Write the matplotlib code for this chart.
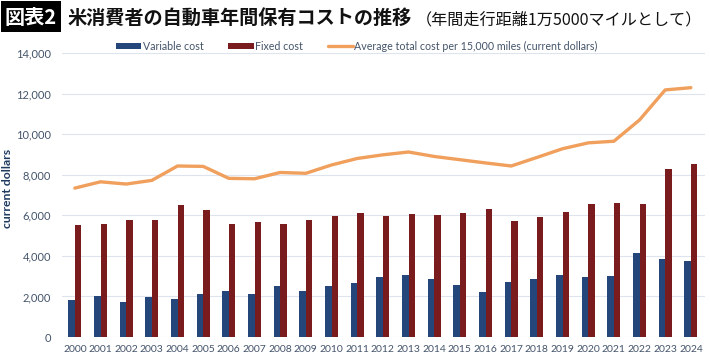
import matplotlib
matplotlib.use("Agg")
import matplotlib.pyplot as plt
from matplotlib.patches import Rectangle
import numpy as np

years = [str(y) for y in range(2000, 2025)]
variable_cost = [1810, 2000, 1730, 1960, 1860, 2100, 2250, 2140, 2530, 2290, 2500, 2650,
                 2940, 3040, 2840, 2580, 2200, 2710, 2880, 3070, 2960, 3020, 4120, 3860, 3750]
fixed_cost = [5500, 5590, 5750, 5770, 6520, 6280, 5570, 5650, 5570, 5750, 5980, 6100,
              5980, 6050, 6000, 6100, 6330, 5720, 5930, 6180, 6570, 6600, 6560, 8300, 8530]
total_cost = [7340, 7650, 7540, 7720, 8430, 8410, 7820, 7800, 8110, 8070, 8480, 8800,
              8980, 9120, 8900, 8740, 8580, 8430, 8850, 9280, 9570, 9650, 10700, 12180, 12290]
yticks = [0, 2000, 4000, 6000, 8000, 10000, 12000, 14000]

lab_var = "Variable cost"
lab_fix = "Fixed cost"
lab_tot = "Average total cost per 15,000 miles (current dollars)"
ylabel = "current dollars"
title_box = "図表2"
title_main = "米消費者の自動車年間保有コストの推移"
title_sub = "（年間走行距離1万5000マイルとして）"

fig = plt.figure(figsize=(7.1, 3.61), dpi=100)
ax = fig.add_axes([62/710, (361-337)/361, (705-62)/710, (337-53)/361])

x = np.arange(len(years))
w = 0.25
c_var = "#24467a"
c_fix = "#7a1c1d"
c_line = "#f0a05c"
tick_c = "#44546a"

b1 = ax.bar(x - w/2, variable_cost, width=w, color=c_var, label=lab_var, zorder=2)
b2 = ax.bar(x + w/2, fixed_cost, width=w, color=c_fix, label=lab_fix, zorder=2)
l1, = ax.plot(x, total_cost, color=c_line, lw=2.4, label=lab_tot, zorder=3, solid_capstyle="round")

ax.set_ylim(0, 14000)
ax.set_xlim(-0.5, 24.55)
ax.set_yticks(yticks)
ax.set_yticklabels([f"{v:,}" for v in yticks])
ax.set_xticks(x)
ax.set_xticklabels(years)
ax.tick_params(axis="both", length=0, colors=tick_c, labelsize=7.5)
ax.tick_params(axis="y", pad=8, labelsize=8)
ax.tick_params(axis="x", pad=6)
for lbl in ax.get_xticklabels() + ax.get_yticklabels():
    lbl.set_fontfamily("Lato")
ax.grid(axis="y", color="#dde4ee", lw=0.8, zorder=0)
for s in ax.spines.values():
    s.set_visible(False)

fig.text(8/710, 1 - 188/361, ylabel, rotation=90, ha="center", va="center",
         fontsize=8.8, fontweight="bold", color="#1f3a60", family="Lato")

leg = fig.legend([b1, b2, l1], [lab_var, lab_fix, lab_tot], loc="center",
                 bbox_to_anchor=(357/710, 1 - 46/361), ncol=3, frameon=False,
                 handlelength=2.35, handleheight=0.45, columnspacing=2.3,
                 handletextpad=0.15, labelcolor=tick_c, prop={"family": "Lato", "size": 7.7})

# Title
fig.patches.append(Rectangle((1/710, 1 - 32/361), 60/710, 31/361, transform=fig.transFigure,
                             facecolor="black", edgecolor="none", zorder=1))
fig.text(31/710, 1 - 17/361, title_box, ha="center", va="center", fontsize=14.5, fontweight="bold",
         color="white", family=["Noto Sans CJK JP", "DejaVu Sans"], zorder=2)
fig.text(67/710, 1 - 18/361, title_main, ha="left", va="center", fontsize=13.8, fontweight="bold",
         color="#111111", family=["Noto Sans CJK JP", "DejaVu Sans"])
fig.text(416/710, 1 - 20/361, title_sub, ha="left", va="center", fontsize=11.6,
         color="#111111", family=["Noto Sans CJK JP", "DejaVu Sans"])

fig.savefig("out.png", dpi=100, facecolor="white")
